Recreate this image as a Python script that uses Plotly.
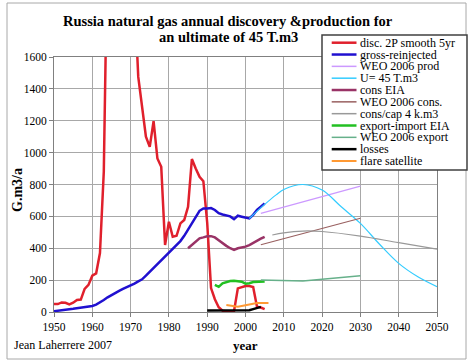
import plotly.graph_objects as go

# ---------------- data ----------------
disc_years = list(range(1950, 2006))
disc_vals = [50, 50, 60, 58, 48, 58, 75, 78, 145, 170,
             228, 242, 370, 880, 2400, 3000, 3500, 3500, 3000, 2600,
             2300, 2000, 1475, 1277, 1100, 1036, 1198, 963, 911, 420,
             566, 472, 478, 556, 577, 660, 960, 901, 848, 821,
             560, 150, 80, 30, 8, 3, 3, 5, 148, 158,
             163, 163, 157, 33, 28, 18]

gross_years = list(range(1950, 2006))
gross_vals = [5, 7, 10, 13, 17, 20, 23, 26, 30, 33,
              38, 46, 58, 75, 92, 107, 120, 133, 145, 155,
              165, 178, 192, 205, 228, 252, 278, 300, 325, 350,
              375, 400, 422, 445, 478, 515, 555, 595, 635, 650,
              650, 652, 640, 620, 612, 608, 600, 583, 604, 598,
              594, 587, 610, 640, 660, 681]

weo_prod_years = [2004, 2010, 2015, 2030]
weo_prod_vals = [619, 658, 690, 790]

u45_years = [2001, 2005, 2008, 2010, 2015, 2020, 2025, 2030, 2035, 2040, 2045, 2050]
u45_vals = [587, 675, 735, 769, 800, 765, 660, 556, 425, 305, 221, 159]

cons_years = list(range(1985, 2006))
cons_vals = [400, 420, 445, 462, 468, 475, 476, 468, 450, 430,
             415, 400, 389, 400, 405, 410, 420, 435, 445, 460, 472]

weo_cons_years = [2004, 2010, 2015, 2030]
weo_cons_vals = [422, 460, 492, 588]

conscap_years = [2007, 2010, 2015, 2020, 2030, 2040, 2050]
conscap_vals = [483, 497, 508, 505, 476, 435, 395]

expimp_years = list(range(1992, 2006))
expimp_vals = [170, 158, 180, 188, 194, 196, 194, 190, 178, 180, 188, 190, 190, 192]

weo_exp_years = [2004, 2010, 2015, 2030]
weo_exp_vals = [200, 197, 194, 228]

loss_years = list(range(1990, 2005))
loss_vals = [10, 10, 10, 10, 10, 10, 10, 10, 10, 10, 10, 11, 18, 25, 32]

flare_years = list(range(1995, 2007))
flare_vals = [44, 40, 35, 33, 38, 44, 48, 52, 57, 58, 58, 57]

x_ticks = list(range(1950, 2051, 10))
y_ticks = list(range(0, 1601, 200))

series = [
    ("disc. 2P smooth 5yr", disc_years, disc_vals, "#e0202c", 2.5, "linear"),
    ("gross-reinjected", gross_years, gross_vals, "#2010d0", 2.5, "linear"),
    ("WEO 2006 prod", weo_prod_years, weo_prod_vals, "#cc99ff", 1.2, "linear"),
    ("U= 45 T.m3", u45_years, u45_vals, "#33ccff", 1.2, "spline"),
    ("cons EIA", cons_years, cons_vals, "#993366", 2.5, "linear"),
    ("WEO 2006 cons.", weo_cons_years, weo_cons_vals, "#996060", 1.2, "linear"),
    ("cons/cap 4 k.m3", conscap_years, conscap_vals, "#999999", 1.2, "spline"),
    ("export-import EIA", expimp_years, expimp_vals, "#22c022", 2.5, "linear"),
    ("WEO 2006 export", weo_exp_years, weo_exp_vals, "#66b08a", 1.5, "linear"),
    ("losses", loss_years, loss_vals, "#000000", 2.5, "linear"),
    ("flare satellite", flare_years, flare_vals, "#ff9933", 2.0, "linear"),
]

FONT = "Liberation Serif, Times New Roman, serif"

fig = go.Figure()
for name, xs, ys, col, w, shp in series:
    fig.add_trace(go.Scatter(x=xs, y=ys, mode="lines", name=name,
                             line=dict(color=col, width=w, shape=shp),
                             showlegend=False, hoverinfo="skip"))

# geometry helpers (pixel -> paper)
L, R, T, B = 54, 437, 57, 312
def px(x):
    return (x - L) / (R - L)
def py(y):
    return (B - y) / (B - T)

shapes = []
annotations = []

# outer border
shapes.append(dict(type="rect", xref="paper", yref="paper",
                   x0=px(7), x1=px(466), y0=py(359), y1=py(3),
                   line=dict(color="#a8a8a8", width=1), layer="below"))

# legend box
shapes.append(dict(type="rect", xref="paper", yref="paper",
                   x0=px(322), x1=px(467), y0=py(170), y1=py(35),
                   line=dict(color="#404040", width=1.5), fillcolor="white",
                   layer="above"))
for i, (name, xs, ys, col, w, shp) in enumerate(series):
    yc = 42.7 + i * 11.83
    shapes.append(dict(type="line", xref="paper", yref="paper",
                       x0=px(331.7), x1=px(356.5), y0=py(yc), y1=py(yc),
                       line=dict(color=col, width=max(w, 1.5)), layer="above"))
    annotations.append(dict(text=name, xref="paper", yref="paper",
                            x=px(358), y=py(yc), xanchor="left", yanchor="middle",
                            showarrow=False, font=dict(family=FONT, size=12, color="black")))

# title
annotations.append(dict(text="<b>Russia natural gas annual discovery &production for</b>",
                        xref="paper", yref="paper", x=px(228), y=py(21),
                        xanchor="center", yanchor="middle", showarrow=False,
                        font=dict(family=FONT, size=14.5, color="black")))
annotations.append(dict(text="<b>an ultimate of 45 T.m3</b>",
                        xref="paper", yref="paper", x=px(228), y=py(37),
                        xanchor="center", yanchor="middle", showarrow=False,
                        font=dict(family=FONT, size=14.5, color="black")))
# axis titles
annotations.append(dict(text="<b>G.m3/a</b>", xref="paper", yref="paper",
                        x=px(18), y=py(190), xanchor="center", yanchor="middle",
                        textangle=-90, showarrow=False,
                        font=dict(family=FONT, size=14, color="black")))
annotations.append(dict(text="<b>year</b>", xref="paper", yref="paper",
                        x=px(245), y=py(345), xanchor="center", yanchor="middle",
                        showarrow=False, font=dict(family=FONT, size=13, color="black")))
annotations.append(dict(text="Jean Laherrere 2007", xref="paper", yref="paper",
                        x=px(12), y=py(345), xanchor="left", yanchor="middle",
                        showarrow=False, font=dict(family=FONT, size=12, color="black")))

fig.update_layout(
    width=475, height=363,
    margin=dict(l=L, r=475 - R, t=T, b=363 - B, pad=0),
    paper_bgcolor="white", plot_bgcolor="white",
    shapes=shapes, annotations=annotations,
    showlegend=False,
    xaxis=dict(range=[1950, 2050], tickvals=x_ticks, ticktext=[str(v) for v in x_ticks],
               showgrid=True, gridcolor="#a8a8a8", gridwidth=1,
               showline=True, linecolor="#808080", linewidth=1, mirror=True,
               ticks="outside", ticklen=4, tickcolor="#808080", zeroline=False,
               tickfont=dict(family=FONT, size=11.5, color="black")),
    yaxis=dict(range=[0, 1600], tickvals=y_ticks, ticktext=[str(v) for v in y_ticks],
               showgrid=True, gridcolor="#a8a8a8", gridwidth=1,
               showline=True, linecolor="#808080", linewidth=1, mirror=True,
               ticks="outside", ticklen=4, tickcolor="#808080", zeroline=False,
               tickfont=dict(family=FONT, size=11.5, color="black")),
)

fig.write_html("out.html", config={"displayModeBar": False},
               post_script="document.body.style.margin='0px';document.body.style.padding='0px';")
